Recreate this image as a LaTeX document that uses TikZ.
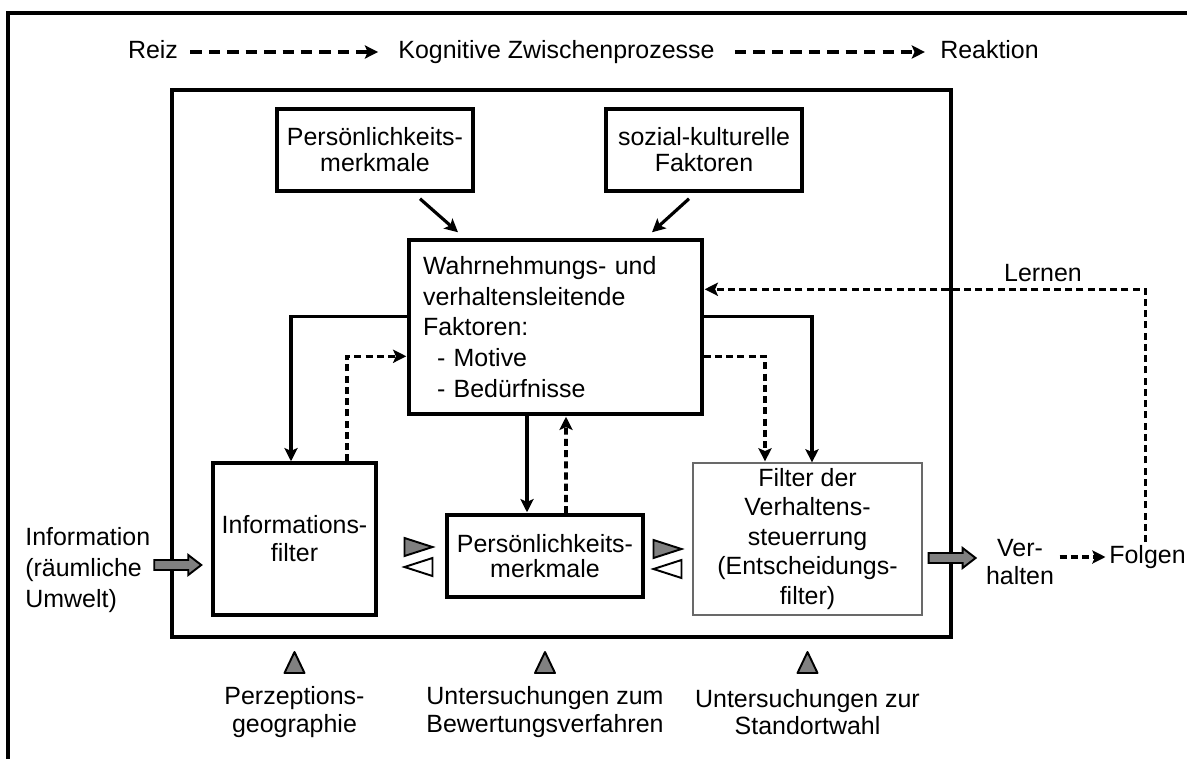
\documentclass[tikz,border=0pt]{standalone}
\usepackage{fontspec}
\setmainfont{Liberation Sans}
\usetikzlibrary{arrows.meta,calc}

\definecolor{fillgray}{RGB}{128,128,128}
\definecolor{thingray}{RGB}{105,105,105}

\newcommand{\fs}[1]{\fontsize{14.2}{#1}\selectfont}

\begin{document}
\begin{tikzpicture}[x=0.02cm,y=-0.02cm,
  every node/.style={inner sep=0pt, font=\fs{14.8pt}},
  box/.style={draw, line width=2pt, align=center, inner sep=0pt},
  hdr/.style={text height=10.4pt, text depth=3pt},
  tip/.style={-{Stealth[length=7.5pt,width=7.5pt,inset=1.6pt]}},
  solidconn/.style={tip, line width=1.8pt},
  dashconn/.style={tip, line width=2pt, dash pattern=on 4pt off 2.4pt},
  hdrconn/.style={tip, line width=2pt, dash pattern=on 6.5pt off 4pt},
  blockarrow/.pic={\draw[fill=fillgray, line width=1.1pt, line join=miter]
      (0,0) -- (-13,-10) -- (-13,-5) -- (-47,-5) -- (-47,5) -- (-13,5) -- (-13,10) -- cycle;},
  exchange/.pic={
      \draw[fill=fillgray, line width=1.1pt] (-14,-19) -- (14,-10) -- (-14,-1) -- cycle;
      \draw[fill=white, line width=1.1pt] (14,1) -- (-14,10) -- (14,19) -- cycle;},
  uptri/.pic={\draw[fill=fillgray, line width=1.1pt, line join=round]
      (-10,10.5) -- (0,-10.5) -- (10,10.5) -- cycle;}
]
\useasboundingbox (0,0) rectangle (1187,758);

% outer frame (open to the right and bottom) and inner process frame
\draw[line width=1.8pt] (8,770) -- (8,13) -- (1200,13);
\draw[line width=2pt] (172,90) rectangle (951,637);

% header line
\node[hdr] (reiz) at (153,52) {Reiz};
\node[hdr] (kog) at (556.5,52) {Kognitive Zwischenprozesse};
\node[hdr] (reak) at (989.5,52) {Reaktion};
\draw[hdrconn, shorten <=0.24cm, shorten >=0.4cm] (reiz.east) -- (kog.west);
\draw[hdrconn, shorten <=0.4cm, shorten >=0.3cm] (kog.east) -- (reak.west);

% boxes
\node[box, minimum width=3.92cm, minimum height=1.64cm] (topP) at (375,150)
  {Persönlichkeits-\\merkmale};
\node[box, minimum width=3.92cm, minimum height=1.64cm] (soz) at (704,150)
  {sozial-kulturelle\\Faktoren};
\node[box, align=left, text width=5.3cm, inner xsep=0.28cm, minimum height=3.48cm,
      font=\fs{17.6pt}] (wahr) at (555.5,327)
  {Wahrnehmungs- und\\verhaltensleitende\\Faktoren:\\\hspace*{0.28cm}- Motive\\\hspace*{0.28cm}- Bedürfnisse};
\node[box, minimum width=3.26cm, minimum height=3.04cm, font=\fs{15.9pt}] (infof) at (294.5,539)
  {Informations-\\filter};
\node[box, minimum width=3.92cm, minimum height=1.64cm, font=\fs{14.2pt}] (persb) at (545,556)
  {Persönlichkeits-\\merkmale};
\node[draw=thingray, line width=0.7pt, align=center, minimum width=4.58cm, minimum height=3.04cm,
      font=\fs{16.8pt}] (filt) at (807.5,539)
  {Filter der\\Verhaltens-\\steuerrung\\(Entscheidungs-\\filter)};

% outside labels
\node[anchor=west, align=left, font=\fs{17.9pt}] (info) at (25,570)
  {Information\\(räumliche\\Umwelt)};
\node[align=center, font=\fs{16pt}] (verh) at (1020,562) {Ver-\\halten};
\node[anchor=west, text height=10.2pt, text depth=3pt] (folg) at (1109,557) {Folgen};
\node[text height=10.2pt, text depth=0pt] (lern) at (1043,273) {Lernen};

% connectors into the central box
\draw[solidconn] ($(topP.south)+(45,6)$) -- ($(wahr.north)+(-97.5,-6)$);
\draw[solidconn] ($(soz.south)+(-15,6)$) -- ($(wahr.north)+(96.5,-6)$);

% central box <-> filters
\draw[solidconn] ($(wahr.north west)+(0,78)$) -| ($(infof.north)+(-3.5,0)$);
\draw[dashconn] ($(infof.north)+(52.5,0)$) |- ($(wahr.north west)+(-1,118)$);
\draw[solidconn] ($(wahr.north east)+(0,78)$) -| ($(filt.north)+(4.5,0)$);
\draw[dashconn] ($(wahr.north east)+(0,118)$) -| ($(filt.north)+(-42.5,-1)$);
\draw[solidconn] ($(wahr.south)+(-28.5,0)$) -- ($(persb.north)+(-18,-1)$);
\draw[dashconn] ($(persb.north)+(21,0)$) -- ($(wahr.south)+(10.5,1)$);

% output side
\draw[dashconn, shorten <=3pt, shorten >=2pt] (verh.east |- folg.west) -- (folg.west);
\draw[dashconn] ($(folg.north)+(-2,-3)$) |- ($(wahr.north east)+(1,51)$);

% block arrows and exchange markers
\pic at ($(infof.west)+(-10,26)$) {blockarrow};
\pic at ($(filt.east)+(53,19)$) {blockarrow};
\pic at (418.5,557) {exchange};
\pic at (667.5,559) {exchange};

% research fields below the frame
\coordinate (trow) at (0,662.5);
\coordinate (lrow) at (0,712);
\pic at (infof.south |- trow) {uptri};
\pic at (persb.south |- trow) {uptri};
\pic at (filt.south |- trow) {uptri};
\node[align=center, font=\fs{15.5pt}] (perz) at (infof.south |- lrow) {Perzeptions-\\geographie};
\node[align=center, font=\fs{15.5pt}] (bew) at (persb.south |- lrow) {Untersuchungen zum\\Bewertungsverfahren};
\node[align=center, font=\fs{15.5pt}] (stand) at (filt.south |- lrow) {Untersuchungen zur\\Standortwahl};
\end{tikzpicture}
\end{document}
